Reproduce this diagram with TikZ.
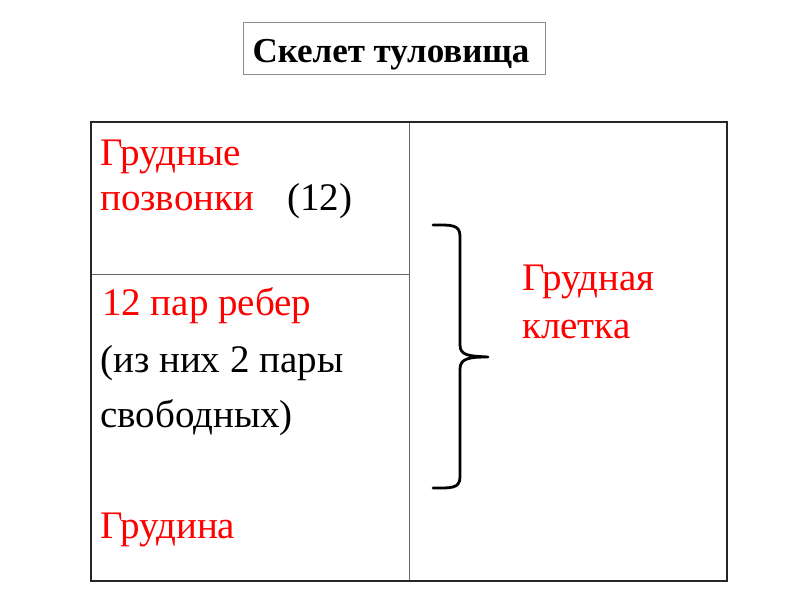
\documentclass[tikz,border=0pt]{standalone}
\usepackage{fontspec}
\setmainfont{LiberationSerif}[Extension=.ttf, UprightFont=*-Regular, BoldFont=*-Bold, ItalicFont=*-Italic, BoldItalicFont=*-BoldItalic]
\begin{document}
\begin{tikzpicture}[x=1pt,y=-1pt,
  txt/.style={anchor=base west, inner sep=0pt, font=\fontsize{39}{39}\selectfont},
  redtxt/.style={txt, text=red},
  outerline/.style={line width=2pt, draw=black!85},
  innerline/.style={line width=1pt, draw=black!60},
  bracestroke/.style={line width=2.8pt, line cap=round, line join=round}]
\useasboundingbox (0,0) rectangle (800,600);
% title
\node[draw=black!45, line width=1pt, minimum width=302pt, minimum height=52pt, inner sep=0pt] (titlebox) at (394,48) {};
\node[anchor=base, inner sep=0pt, font=\fontsize{35}{35}\selectfont\bfseries] (title) at (391,62) {Скелет туловища};
% table
\coordinate (tl) at (91,122);
\coordinate (br) at (727,581);
\coordinate (ct) at (409,122);
\coordinate (cb) at (409,581);
\coordinate (rl) at (91,274);
\coordinate (rr) at (409,274);
\draw[innerline] (ct) -- (cb);
\draw[innerline] (rl) -- (rr);
\draw[outerline] (tl) rectangle (br);
% texts
\node[redtxt] (t1) at (100,165) {Грудные};
\node[redtxt] (t2) at (100,210) {позвонки};
\node[txt] (t3) at (287,210) {(12)};
\node[redtxt] (t4) at (102,315) {12 пар ребер};
\node[txt] (t5) at (100,372) {(из них 2 пары};
\node[txt] (t6) at (100,427) {свободных)};
\node[redtxt] (t7) at (100,538) {Грудина};
\node[redtxt] (t8) at (522,290) {Грудная};
\node[redtxt] (t9) at (522,338) {клетка};
% brace
\coordinate (btop) at (433,225);
\coordinate (bmid) at (488,357);
\coordinate (bbot) at (433,488);
\draw[bracestroke] (btop) .. controls (450,225) and (460,224) .. (460,236)
  -- (460,345) .. controls (460,356) and (470,356) .. (bmid)
  .. controls (470,357) and (460,358) .. (460,369)
  -- (460,477) .. controls (460,489) and (450,488) .. (bbot);
\end{tikzpicture}
\end{document}
